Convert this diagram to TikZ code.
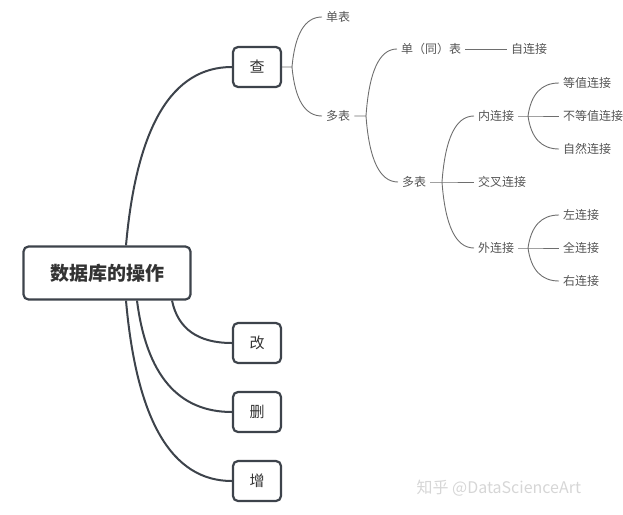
\documentclass[tikz,border=0pt]{standalone}
\usepackage{fontspec}
\usetikzlibrary{calc}
\setmainfont{Noto Sans CJK SC}
\definecolor{boxline}{HTML}{3D434B}
\definecolor{twig}{HTML}{6E6E6E}
\definecolor{leaftext}{HTML}{555555}

\begin{document}
\begin{tikzpicture}[x=1pt,y=-1pt,
  opbox/.style={draw=boxline,line width=2.2pt,rounded corners=5pt,fill=white,
    minimum width=48pt,minimum height=40pt,font=\fontsize{15}{15}\selectfont,text=black!80},
  leaf/.style={anchor=west,inner xsep=4pt,inner ysep=1pt,
    font=\fontsize{12}{12}\selectfont,text=leaftext},
  limb/.style={boxline,line width=2pt},
  twigline/.style={twig,line width=0.9pt},
  elbow/.style={to path={let \p1=(\tikztostart), \p2=(\tikztotarget) in
    .. controls ({\x1+0.1*(\x2-\x1)},{\y1+0.667*(\y2-\y1)})
    and ({\x2-0.567*(\x2-\x1)},\y2) .. (\tikztotarget)}}]
		\useasboundingbox (0,0) rectangle (623,514);
		%\draw[blue!20] (0,0) grid[step=50] (623,514);

		% boxes
		\node [opbox,minimum width=167pt,minimum height=53pt,
		  font=\fontsize{19}{19}\selectfont\bfseries] (db) at (107,273) {数据库的操作};
		\node [opbox] (cha) at (257,67) {查};
		\node [opbox] (gai) at (257,343) {改};
		\node [opbox] (shan) at (257,412) {删};
		\node [opbox] (zeng) at (257,481) {增};

		\coordinate (r1) at ([xshift=19pt]db.north);
		\coordinate (r2) at ([xshift=65pt]db.south);
		\coordinate (r3) at ([xshift=30pt]db.south);
		\coordinate (r4) at ([xshift=19pt]db.south);
		\draw [limb] (r1) to[elbow] (cha.west);
		\draw [limb] (r2) to[elbow] (gai.west);
		\draw [limb] (r3) to[elbow] (shan.west);
		\draw [limb] (r4) to[elbow] (zeng.west);

		% leaves of 查
		\node [leaf] (dan) at (322,17) {单表};
		\node [leaf] (duo) at (322,116) {多表};
		\node [leaf] (tong) at (397,49) {单（同）表};
		\node [leaf] (zi) at (507,49) {自连接};
		\node [leaf] (duo2) at (398,182) {多表};
		\node [leaf] (nei) at (474,116) {内连接};
		\node [leaf] (jiao) at (474,182) {交叉连接};
		\node [leaf] (wai) at (474,248) {外连接};
		\node [leaf] (dz) at (559,83) {等值连接};
		\node [leaf] (bdz) at (559,116) {不等值连接};
		\node [leaf] (zr) at (559,149) {自然连接};
		\node [leaf] (zuo) at (559,215) {左连接};
		\node [leaf] (quan) at (559,248) {全连接};
		\node [leaf] (you) at (559,281) {右连接};

		\coordinate (b1) at (292,67);
		\coordinate (b2) at (366,116);
		\coordinate (b3) at (442,182);
		\coordinate (b4) at (528,116);
		\coordinate (b5) at (528,248);

		\draw [twigline] (cha.east) -- (b1) (b1) to[elbow] (dan.west) (b1) to[elbow] (duo.west);
		\draw [twigline] (duo.east) -- (b2) (b2) to[elbow] (tong.west) (b2) to[elbow] (duo2.west);
		\draw [twigline] (tong.east) -- (zi.west);
		\draw [twigline] (duo2.east) -- (b3) -- (jiao.west);
		\draw [twigline] (b3) to[elbow] (nei.west) (b3) to[elbow] (wai.west);
		\draw [twigline] (nei.east) -- (b4) -- (bdz.west);
		\draw [twigline] (b4) to[elbow] (dz.west) (b4) to[elbow] (zr.west);
		\draw [twigline] (wai.east) -- (b5) -- (quan.west);
		\draw [twigline] (b5) to[elbow] (zuo.west) (b5) to[elbow] (you.west);

		\node [anchor=west,font=\fontsize{16}{16}\selectfont,text=black!16] (mark) at (413,488) {知乎 @DataScienceArt};
	\end{tikzpicture}
\end{document}
